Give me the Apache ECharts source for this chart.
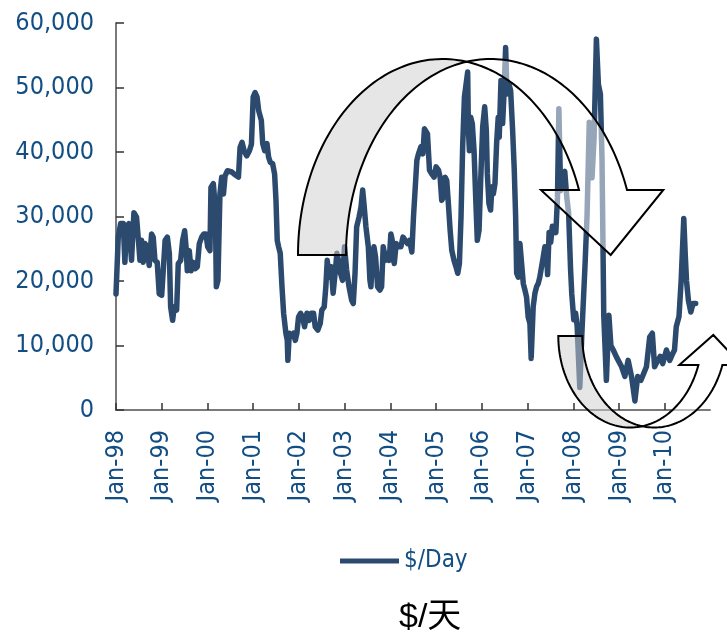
<!DOCTYPE html>
<html>
<head>
<meta charset="utf-8">
<title>$/Day</title>
<script src="https://cdn.jsdelivr.net/npm/echarts@6/dist/echarts.min.js"></script>
<style>
  html, body { margin: 0; padding: 0; background: #ffffff; }
  #chart { width: 727px; height: 638px; }
</style>
</head>
<body>
<div id="chart"></div>
<script>
// Daily hire rate, $/day
const dates = [
  '1998-01-01','1998-01-19','1998-02-07','1998-02-28','1998-03-13','1998-03-26','1998-04-14','1998-05-05',
  '1998-05-24','1998-06-14','1998-06-27','1998-07-11','1998-07-24','1998-08-06','1998-08-20','1998-09-07',
  '1998-09-23','1998-10-12','1998-10-25','1998-11-08','1998-11-26','1998-12-12',
  '1999-01-01','1999-01-14','1999-01-28','1999-02-15','1999-03-03','1999-03-13','1999-03-29','1999-04-11',
  '1999-04-30','1999-05-13','1999-06-01','1999-06-17','1999-07-03','1999-07-14','1999-07-24','1999-08-09',
  '1999-08-23','1999-09-10','1999-09-23','1999-10-12','1999-10-28','1999-11-16','1999-12-04','1999-12-20',
  '2000-01-03','2000-01-21','2000-01-29','2000-02-17','2000-03-04','2000-03-12','2000-03-25','2000-04-10',
  '2000-04-24','2000-05-08','2000-05-21','2000-06-09','2000-06-25','2000-07-13','2000-08-01','2000-08-17',
  '2000-09-05','2000-09-18','2000-10-04','2000-10-20','2000-11-10','2000-12-02','2000-12-18',
  '2001-01-01','2001-01-16','2001-02-01','2001-02-14','2001-03-07','2001-03-18','2001-04-03','2001-04-21',
  '2001-05-04','2001-05-18','2001-06-05','2001-06-21','2001-07-02','2001-07-12','2001-07-23','2001-08-05',
  '2001-08-19','2001-09-01','2001-09-19','2001-09-30','2001-10-05','2001-10-16','2001-11-01','2001-11-20',
  '2001-12-03','2001-12-16','2001-12-29',
  '2002-01-14','2002-01-30','2002-02-15','2002-03-06','2002-03-24','2002-04-09','2002-04-28','2002-05-11',
  '2002-06-01','2002-06-20','2002-07-03','2002-07-22','2002-08-04','2002-08-15','2002-08-31','2002-09-16',
  '2002-10-01','2002-10-17','2002-10-31','2002-11-13','2002-11-29','2002-12-15','2002-12-31',
  '2003-01-17','2003-02-05','2003-02-26','2003-03-11','2003-03-25','2003-04-07','2003-04-26','2003-05-12',
  '2003-05-25','2003-06-04','2003-06-20','2003-07-09','2003-07-22','2003-07-30','2003-08-10','2003-08-23',
  '2003-09-05','2003-09-21','2003-10-10','2003-10-23','2003-11-05','2003-11-24','2003-12-10','2003-12-23',
  '2004-01-05','2004-01-16','2004-02-01','2004-02-17','2004-03-04','2004-03-25','2004-04-11','2004-04-29',
  '2004-05-18','2004-06-03','2004-06-21','2004-07-04','2004-07-18','2004-07-31','2004-08-13','2004-09-01',
  '2004-09-17','2004-09-30','2004-10-13','2004-10-24','2004-11-09','2004-11-27','2004-12-16',
  '2005-01-01','2005-01-20','2005-02-02','2005-02-15','2005-02-28','2005-03-14','2005-03-27','2005-04-09',
  '2005-04-23','2005-05-06','2005-05-24','2005-06-09','2005-06-23','2005-07-06','2005-07-19','2005-08-01',
  '2005-08-15','2005-09-10','2005-09-16','2005-09-24','2005-10-04','2005-10-17','2005-10-31','2005-11-13',
  '2005-11-26','2005-12-10','2005-12-23',
  '2006-01-08','2006-01-24','2006-02-06','2006-02-14','2006-02-27','2006-03-12','2006-03-23','2006-04-03',
  '2006-04-16','2006-04-29','2006-05-12','2006-05-20','2006-06-03','2006-06-16','2006-06-27','2006-07-10',
  '2006-07-21','2006-08-05','2006-08-19','2006-09-04','2006-09-17','2006-09-28','2006-10-06','2006-10-19',
  '2006-11-01','2006-11-14','2006-11-28','2006-12-11','2006-12-24',
  '2007-01-06','2007-01-20','2007-01-30','2007-02-15','2007-03-01','2007-03-14','2007-03-27','2007-04-09',
  '2007-04-23','2007-05-06','2007-05-19','2007-06-01','2007-06-10','2007-06-22','2007-07-05','2007-07-18',
  '2007-08-01','2007-08-15','2007-08-28','2007-09-08','2007-09-22','2007-10-10','2007-10-25','2007-11-10',
  '2007-11-25','2007-12-10','2007-12-20',
  '2008-01-05','2008-01-20','2008-02-01','2008-02-22','2008-03-10','2008-04-03','2008-04-20','2008-05-08',
  '2008-05-30','2008-06-15','2008-07-04','2008-07-20','2008-08-05','2008-08-18','2008-09-01','2008-09-22',
  '2008-10-12','2008-10-28','2008-11-16','2008-12-12',
  '2009-01-22','2009-02-17','2009-03-15','2009-04-11','2009-05-08','2009-05-30','2009-06-25','2009-08-08',
  '2009-09-03','2009-09-24','2009-10-12','2009-11-07','2009-11-26','2009-12-16',
  '2010-01-15','2010-02-10','2010-03-07','2010-03-20','2010-04-03','2010-04-25','2010-05-12','2010-06-02',
  '2010-06-14','2010-06-24','2010-07-09','2010-07-28','2010-08-15','2010-09-05'
];

const rates = [
  18000,26800,28900,28900,22900,28400,28900,23200,
  30600,29900,26800,23200,26300,22900,25800,25300,
  22400,27300,26800,23200,22900,18000,
  17800,18000,26300,26800,24200,16000,13900,16000,
  15500,22700,23200,26300,27800,25300,21600,24700,
  21600,22900,21900,22200,25800,26800,27300,27300,
  25300,24700,34500,35100,31400,19100,20100,33500,
  36100,33500,36300,37100,37400,36900,36600,36300,
  36100,40700,41500,40200,39400,40200,41200,
  48500,49200,48500,46400,44900,41300,40200,41300,
  39200,38400,38200,36600,32500,26300,25300,24300,
  19100,15000,11900,10800,7700,11900,11400,11900,
  10800,11900,14400,
  15000,14400,12900,15000,13900,15000,15000,12900,
  12400,13400,15500,16000,19100,23200,20600,22200,
  18100,21200,24300,23200,21200,20100,25300,
  21700,19100,17000,16500,21200,28400,29900,31500,
  34100,32000,28400,25300,20100,19100,23700,25300,
  23700,19100,18600,19100,25300,23200,24300,23200,
  27300,26300,22700,25800,25300,25300,26800,26300,
  25800,26300,24500,29900,30200,38700,39700,40800,
  39700,43600,43300,42800,37200,36600,36100,
  37700,37200,36100,32500,33000,36100,35600,32000,
  27900,24800,23200,22200,21200,22700,29900,40800,
  48500,52400,43300,40200,45400,44400,40200,33000,
  26300,27900,35600,
  43900,47000,43300,36600,32000,31000,34600,33500,
  35100,41300,45400,42300,51100,44400,49000,56200,
  49000,50600,49500,43300,37200,29900,21200,20600,
  25800,25800,19600,18600,17500,
  14400,13400,8000,16000,18100,19100,19600,20600,
  20600,23700,25300,24800,21000,27500,26000,28500,
  28800,27500,33000,46700,34000,36500,37000,33000,
  30500,22000,18000,
  14000,15000,13000,3500,12000,22000,30000,44600,
  36000,42000,57500,50500,49000,39000,14700,4600,
  14700,10000,9300,8200,
  6700,5200,7700,5200,1400,5200,4600,6700,
  11300,11900,6700,7700,8300,7200,
  9300,7700,8800,9300,12900,14500,20000,29700,
  24000,20000,17000,15200,16500,16500
];

const seriesName = '$/Day';
const footerText = '$/天';
const firstYear = 1998;
const lastYear = 2010;

// 'YYYY-MM-DD' -> fractional year, so the axis can tick on each January
function toYear(s) {
  const d = new Date(s + 'T00:00:00Z');
  const y = d.getUTCFullYear();
  const a = Date.UTC(y, 0, 1), b = Date.UTC(y + 1, 0, 1);
  return y + (d.getTime() - a) / (b - a);
}

const points = dates.map((d, i) => [toYear(d), rates[i]]);

const labelColor = '#124d83';
const lineColor = '#2c4a6e';
const latinFont = '"DejaVu Sans Condensed", "DejaVu Sans", sans-serif';

// Points along an elliptical arc; dir = -1 bulges upward, +1 downward
function arc(cx, cy, rx, ry, t0, t1, dir, n) {
  const pts = [];
  for (let i = 0; i <= n; i++) {
    const t = t0 + (t1 - t0) * i / n;
    pts.push([cx + rx * Math.cos(t), cy + dir * ry * Math.sin(t)]);
  }
  return pts;
}

// Curved "down" arrow over the 2002-2008 boom
function bigArrow() {
  const cy = 255, rx = 144.6, ry = 196, c1 = 442.6, c2 = 490.6;
  const tc = Math.acos(24 / rx);
  const ts = Math.asin(65 / ry);
  const back = arc(c1, cy, rx, ry, Math.PI, tc, -1, 60)
    .concat(arc(c2, cy, rx, ry, Math.PI - tc, Math.PI, -1, 60));
  const front = arc(c2, cy, rx, ry, Math.PI - tc, ts, -1, 60)
    .concat([[663.3, 190], [610.7, 255], [541, 190]])
    .concat(arc(c1, cy, rx, ry, ts, tc, -1, 60));
  return [back, front];
}

// Curved "up" arrow at the 2008-2010 trough
function smallArrow() {
  const cy = 336, rx = 71.9, ry = 91.5, c1 = 630.2, c2 = 654.2;
  const tc = Math.acos(12 / rx);
  const ts = Math.asin(29 / ry);
  const back = arc(c1, cy, rx, ry, Math.PI, tc, 1, 50)
    .concat(arc(c2, cy, rx, ry, Math.PI - tc, Math.PI, 1, 50));
  const front = arc(c2, cy, rx, ry, Math.PI - tc, ts, 1, 50)
    .concat([[741.5, 365], [713.3, 335], [679.3, 365]])
    .concat(arc(c1, cy, rx, ry, ts, tc, 1, 50));
  return [back, front];
}

function arrowShapes() {
  const out = [];
  [bigArrow(), smallArrow()].forEach(([back, front]) => {
    out.push({
      type: 'polygon', z: 100,
      shape: { points: back },
      style: { fill: 'rgba(206,206,206,0.5)', stroke: '#000', lineWidth: 2, lineJoin: 'miter' }
    });
    out.push({
      type: 'polygon', z: 100,
      shape: { points: front },
      style: { fill: 'rgba(255,255,255,0.5)', stroke: '#000', lineWidth: 2, lineJoin: 'miter' }
    });
  });
  return out;
}

const chart = echarts.init(document.getElementById('chart'), null, { renderer: 'canvas' });

chart.setOption({
  animation: false,
  backgroundColor: '#ffffff',
  title: {
    text: footerText,
    left: 399,
    top: 601,
    padding: 0,
    textStyle: {
      color: '#000',
      fontSize: 34,
      fontWeight: 'normal',
      fontFamily: '"Liberation Sans", "Noto Sans CJK SC", sans-serif'
    }
  },
  legend: {
    data: [seriesName],
    left: 340,
    top: 549,
    padding: 0,
    icon: 'rect',
    itemWidth: 59,
    itemHeight: 5,
    textStyle: { color: labelColor, fontSize: 24, fontFamily: latinFont }
  },
  grid: { left: 116, top: 23, right: 17, bottom: 228, containLabel: false },
  xAxis: {
    type: 'value',
    min: firstYear,
    max: lastYear + 0.99,
    interval: 1,
    axisLine: { show: true, lineStyle: { color: '#7a7a7a', width: 2 } },
    axisTick: { show: true, inside: true, length: 7, lineStyle: { color: '#333', width: 1.5 } },
    splitLine: { show: false },
    axisLabel: {
      rotate: 90,
      margin: 20,
      color: labelColor,
      fontSize: 25,
      fontFamily: latinFont,
      showMaxLabel: false,
      formatter: v => 'Jan-' + String(Math.round(v) % 100).padStart(2, '0')
    }
  },
  yAxis: {
    type: 'value',
    min: 0,
    max: 60000,
    interval: 10000,
    axisLine: { show: true, lineStyle: { color: '#7a7a7a', width: 2 } },
    axisTick: { show: true, inside: true, length: 8, lineStyle: { color: '#333', width: 1.5 } },
    splitLine: { show: false },
    axisLabel: {
      margin: 22,
      color: labelColor,
      fontSize: 25,
      fontFamily: latinFont,
      formatter: v => v.toLocaleString('en-US')
    }
  },
  series: [{
    name: seriesName,
    type: 'line',
    data: points,
    showSymbol: false,
    symbol: 'none',
    lineStyle: { color: lineColor, width: 5.5, join: 'round', cap: 'round' },
    itemStyle: { color: lineColor },
    z: 2
  }],
  graphic: arrowShapes()
});
</script>
</body>
</html>
